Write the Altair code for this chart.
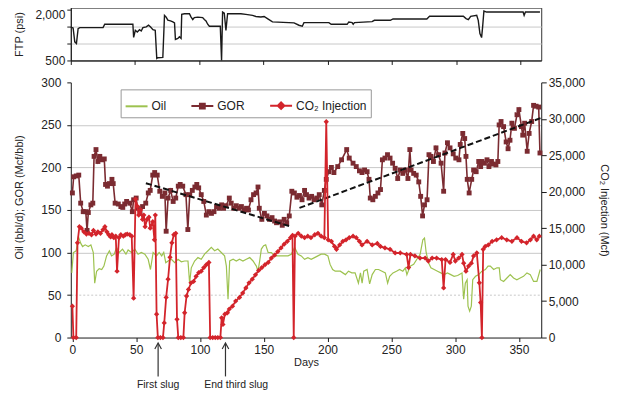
import altair as alt
import pandas as pd

FONT = "Liberation Sans"

# ---------------- data ----------------
ftp_day = [0, 1.8, 3.1, 4.4, 5.7, 7, 25.1, 26.4, 48.3, 48.9, 50.2, 51.7, 53.5, 54.8, 56.1, 58.7, 60.5,
           62.1, 63.9, 65.7, 66.9, 67.7, 71.6, 72.9, 74.2, 75.5, 77.6, 79.4, 80.7, 81.4, 83.3, 84.5,
           85.8, 86.3, 88.4, 92.3, 93.6, 94.9, 96.1, 98.8, 102.6, 103.9, 105.2, 106.5, 107.8, 116.3,
           117.3, 118.1, 119.4, 120.7, 122, 132.3, 136.2, 141.4, 144, 147.9, 150.4, 153, 156.9, 173.7,
           177.5, 180.1, 181.4, 200.8, 202.6, 215, 216.3, 218.9, 219.7, 220.7, 234.4, 236.2, 248.6,
           250.7, 277, 279.1, 305.4, 307.5, 309.3, 311.1, 315.8, 317, 318.3, 319.6, 320.4, 321.4,
           323.5, 351.9, 352.7, 353.7, 365]
ftp_psi = [1480, 1460, 1050, 1000, 1440, 1470, 1470, 1570, 1570, 1180, 1390, 1340, 1410, 1370, 1470, 1490, 1540,
           1490, 1410, 1390, 560, 580, 590, 1830, 1780, 1690, 1670, 1640, 1610, 1120, 1150, 1200,
           1150, 1860, 1880, 1880, 1780, 1710, 1765, 1780, 1765, 1710, 1670, 1570, 1510, 1510,
           500, 1930, 1900, 1390, 1880, 1880, 1860, 1830, 1800, 1785, 1800, 1735, 1640, 1610,
           1540, 1510, 1617, 1617, 1568, 1568, 1637, 1617, 1568, 1617, 1647, 1686, 1686,
           1725, 1725, 1804, 1804, 1735, 1706, 1804, 1832, 1686, 1294, 1176, 1490, 1960,
           1930, 1930, 1832, 1930, 1930]

oil_day = [-0.5, 0.8, 3, 4.7, 6.5, 8, 10, 12.5, 14.5, 16.4, 17.5, 19, 21, 23, 24.7, 26.8, 29, 30.7, 32.8,
           34.6, 36.7, 39.3, 42, 43.7, 46.3, 49, 51.5, 54, 56.8, 59.4, 61.2, 63.3, 66, 68, 70, 71.6,
           73.2, 75, 77.6, 80.2, 82.8, 85.4, 88, 90.6, 91.9, 93.2, 95.8, 98.4, 101, 103.6, 106.3,
           108.9, 111.5, 114, 116.7, 119.3, 120.7, 122, 123.3, 126, 128.5, 131, 133.7, 136.3, 139,
           141.6, 144.2, 145.5, 146.8, 148.1, 149.9, 151.5, 153.4, 156, 158.6, 161.2, 163.8, 166.4,
           169, 171.6, 174.2, 176.8, 179.4, 182, 184.6, 187.2, 189.8, 192.4, 195, 197.7, 200.3, 202,
           204, 206, 210, 214, 216.4, 219, 221.6, 224.2, 225.8, 227.1, 228.4, 231, 233, 235, 237.5,
           240, 242.7, 245.3, 247.1, 248.7, 251.3, 254, 256.5, 259, 261, 262.2, 264.8, 267.5, 270,
           272.6, 274.7, 276, 277.3, 279.2, 281, 283.6, 286.2, 288.8, 291.4, 294, 296.6, 299.2, 302,
           305.4, 306.7, 308, 309.4, 310.1, 311.4, 312.7, 313.8, 316, 318.5, 321, 323.7, 325.8, 327.6,
           330.2, 332.8, 334.6, 335.5, 338, 340.6, 343.2, 345.8, 348.4, 351, 353.6, 356.3, 358.9,
           361.5, 364.1, 366.7]
oil_bbl = [76, 100, 102, 119, 111, 107, 109, 107, 109, 100, 64, 78, 81, 80, 84, 96, 102, 96, 98,
           106, 100, 104, 98, 103, 100, 104, 98, 100, 98, 92, 80, 100, 96, 100, 96, 100,
           88, 90, 92, 88, 92, 89, 90, 90, 64, 82, 90, 94, 92, 98, 102,
           106, 102, 104, 100, 96, 84, 45, 90, 92, 90, 92, 90, 92, 94,
           90, 84, 78, 90, 104, 108, 109, 100, 100, 96, 96, 96, 96,
           96, 98, 106, 98, 96, 92, 94, 92, 94, 96, 98, 98, 96, 86,
           80, 78, 78, 74, 78, 76, 76, 64, 76, 64, 78, 80, 63, 74, 80,
           80, 78, 76, 64, 72, 76, 78, 80, 78, 82, 74, 84, 86, 92,
           98, 115, 117, 100, 88, 82, 80, 78, 76, 74, 76, 74, 72, 73,
           76, 45, 64, 68, 37, 31, 37, 68, 72, 74, 78, 80, 84, 84,
           80, 82, 82, 68, 66, 70, 74, 70, 68, 70, 72, 76, 74,
           66, 66, 80]

gor_day = [0, 1, 3, 5, 6.5, 8.5, 10.5, 11.5, 12.5, 14.5, 16, 17, 18.5, 20, 21.5, 23.5, 25, 26, 27.5, 29,
           31, 32, 33.5, 36, 38, 39.5, 41, 42.5, 45, 47, 48, 50, 51, 53, 55, 57.5, 59.5, 61, 63, 64.5,
           66.5, 68.5, 70.5, 72.5, 73.5, 75, 77, 79, 81, 83, 84.5, 86.5, 89, 90.5, 92, 94, 96, 97.5,
           99, 101, 103, 105, 107, 109, 111, 113, 115, 117, 118.5, 120.5, 123, 124.5, 126.5, 128.5,
           130.5, 132.5, 134.5, 136.5, 138, 140, 142, 144, 145.5, 146.5, 148.5, 150.5, 152.5, 154.5,
           156.5, 158.5, 160, 162.5, 164.5, 166, 168, 170, 172, 174, 176, 178, 180, 182, 183.5, 185.5,
           187.5, 189.5, 191.5, 193.5, 195.5, 197.5, 199, 201, 203, 205, 208, 211, 215, 217, 220,
           222.5, 225, 227, 229, 231, 232.5, 233.5, 235.5, 237.5, 239.5, 241.5, 243, 245, 247, 249,
           251, 253, 255, 257, 259, 261, 263, 264.5, 265.5, 267.5, 269.5, 271.5, 273, 274.5, 276,
           278, 279.5, 281, 283, 285, 287, 289, 291, 292, 294, 296, 298.5, 300.5, 303, 304, 306,
           307.5, 308.5, 309.5, 311, 313, 314.5, 316.5, 318.5, 320, 321, 323, 325, 326.5, 328.5,
           330, 332, 333.5, 334.5, 336, 338, 340, 341.5, 343, 344.5, 346.5, 348.5, 350, 352, 353,
           354.5, 356.5, 358, 360, 361.5, 363.5, 365.5, 366.5]
gor_val = [170, 189, 190, 191, 158, 148, 148, 126, 147, 156, 158, 213, 221, 207, 213, 209, 210, 180, 178, 181,
           186, 181, 158, 157, 154, 153, 157, 160, 158, 148, 162, 164, 152, 146, 154, 158, 170, 173, 191, 194,
           191, 172, 166, 170, 125, 164, 173, 160, 164, 178, 180, 178, 168, 127, 168, 173, 177, 180,
           176, 168, 160, 144, 148, 146, 148, 154, 152, 156, 152, 155, 164, 158, 152, 155,
           152, 154, 150, 152, 150, 162, 168, 170, 177, 152, 139, 146, 143, 139,
           141, 137, 135, 136, 132, 139, 135, 143, 172, 170, 165, 167, 162, 173, 168, 164,
           166, 162, 164, 168, 156, 173, 186, 195, 200, 194, 201, 209, 221, 211, 205,
           201, 196, 194, 197, 195, 186, 164, 162, 166, 170, 174, 209, 211, 215, 211,
           205, 199, 187, 197, 193, 197, 187, 221, 197, 193, 191, 183, 166, 143, 156,
           162, 215, 213, 207, 223, 215, 205, 172, 217, 229, 223, 216, 211, 209, 227, 240,
           234, 213, 186, 170, 186, 197, 195, 207, 201, 207, 205, 209, 201, 207,
           204, 203, 207, 250, 254, 248, 230, 222, 232, 252, 246, 262, 268, 248, 238,
           252, 219, 240, 254, 273, 272, 271, 217]

co2_day = [0, 0.8, 3, 4, 5.5, 7, 9, 11, 13, 15, 16.5, 18.5, 20, 22, 24, 25.5, 27, 28.5, 30, 31, 32.5,
           34, 35, 36.5, 38, 40, 41.5, 43, 45, 46.5, 48, 49.5, 51, 52, 53.5, 55, 56, 57, 58.5, 60, 61,
           63, 64.3, 65, 66, 67, 69, 71, 72, 73.5, 75, 76.5, 78, 79.5, 81, 82, 83, 85, 87, 88, 89.5,
           91, 93, 95, 97, 99, 101, 103, 105, 107, 108, 110, 112, 114, 116, 117, 118, 119.5, 121.5,
           123, 125.5, 128, 131, 133.5, 136, 138.5, 141, 143.5, 146, 148.5, 151, 153.5, 156, 158.5,
           161, 163.5, 166, 168.5, 171, 172.5, 173.5, 174.5, 177, 179.5, 182, 184.5, 187, 190, 192.5,
           195, 197.5, 199, 200.5, 203, 205.5, 207, 209.5, 212, 214.5, 217, 220, 222.5, 225, 227,
           231, 235, 239, 241.5, 245, 249, 253, 257, 262, 263.5, 265, 268.5, 272.5, 276.5, 279,
           282, 285.5, 289.5, 291, 292.5, 296, 298.5, 300.2, 302.8, 305.4, 306.7, 308.5, 310.6,
           312.7, 314.5, 317, 319, 320, 321, 322, 323.6, 326, 329, 332.5, 336.5, 340.5, 344.5,
           348.5, 352, 356, 359, 361.5, 364, 366]
co2_mcf = [4300, 0, 0, 13000, 15200, 15000, 14500, 14200, 14300, 14100, 14700, 14200, 14500, 14300, 14800,
           15200, 14500, 14100, 13800, 14100, 13700, 13900, 9100, 13700, 14100, 13900, 14100, 14200,
           14100, 13900, 5400, 19000, 18000, 16800, 17500, 16200, 16800, 15200, 16200, 16500, 15000,
           15900, 13400, 16800, 3200, 0, 0, 0, 2000, 5500, 8000, 11000, 13000, 14100, 14300, 2500,
           0, 0, 0, 3400, 5700, 6600, 7500, 7700, 8400, 8900, 9100, 9600, 10000, 10300, 0, 0, 0, 0,
           0, 2700, 1800, 3200, 3400, 3900, 4300, 5000, 5500, 6100, 6800, 7500, 8000, 8600, 9200,
           9600, 10000, 10300, 10900, 11300, 11800, 12300, 12800, 13200, 13700, 14000, 0, 13900,
           14300, 13900, 13700, 13900, 13700, 14100, 14300, 13900, 13700, 29600, 13400, 13200,
           12500, 12100, 12700, 13200, 13400, 13700, 13900, 13700, 13200, 12700, 13200, 12700,
           12900, 12500, 12300, 12100, 11600, 11600, 11400, 9600, 11400, 11200, 10900, 10900,
           10500, 10900, 10900, 10700, 6800, 10700, 10300, 11400, 10500, 10900, 11400, 10200,
           9100, 9800, 10200, 11200, 11600, 7500, 4800, 0, 12100, 12500, 12700, 13200, 13400,
           13700, 13400, 13200, 13700, 13200, 13000, 13400, 13900, 13400, 13900]

trend_day = [57.6, 170, 178, 367]
trend_gor = [181.5, 131, 152.4, 258]
trend_seg = ["a", "a", "b", "b"]

series_names = ["Oil", "GOR", "CO₂ Injection"]
series_colors = ["#9dc24f", "#7b2b31", "#d3242b"]
series_symbols = ["M-1,0L1,0",
                  "M-1,0L1,0M-0.22,-0.22L0.22,-0.22L0.22,0.22L-0.22,0.22Z",
                  "M-1,0L1,0M0,-0.3L0.3,0L0,0.3L-0.3,0Z"]

slug_arrow_day = [67.2, 120]
slug_text_day = [67.2, 128.4]
slug_label = ["First slug", "End third slug"]

# ---------------- frames ----------------
ftp_df = pd.DataFrame({"day": ftp_day, "v": ftp_psi})
oil_df = pd.DataFrame({"day": oil_day, "v": oil_bbl})
gor_df = pd.DataFrame({"day": gor_day, "v": gor_val})
co2_df = pd.DataFrame({"day": co2_day, "mcf": co2_mcf})
trend_df = pd.DataFrame({"day": trend_day, "v": trend_gor, "seg": trend_seg})
leg_df = pd.DataFrame({"series": series_names, "day": [-60] * 3, "v": [150] * 3})
ann_df = pd.DataFrame({"day": slug_arrow_day, "tday": slug_text_day, "label": slug_label})

AX = "#1a1a1a"
GRID = "#c8c8c8"
W = 472

# ---------------- top panel ----------------
top = alt.Chart(ftp_df).mark_line(color="#1a1a1a", strokeWidth=1.4).encode(
    x=alt.X("day:Q", scale=alt.Scale(domain=[0, 366], nice=False, zero=False),
            axis=alt.Axis(values=list(range(0, 351, 50)), labels=False, title=None, grid=False,
                          tickSize=4, domainColor=AX, tickColor=AX)),
    y=alt.Y("v:Q", scale=alt.Scale(domain=[500, 2060], nice=False, zero=False),
            axis=alt.Axis(values=[500, 1000, 1500, 2000], format=",d", title="FTP (psi)", titleX=-46,
                          grid=True, gridColor=GRID,
                          gridOpacity={"condition": {"test": "datum.value == 1000 || datum.value == 1500", "value": 1}, "value": 0},
                          labelBaseline={"condition": {"test": "datum.value == 2000", "value": "top"}, "value": "middle"},
                          tickSize=4, labelPadding=2, domainColor=AX, tickColor=AX)),
).properties(width=W, height=53, view=alt.ViewBackground(stroke="#333", strokeWidth=1))

# ---------------- bottom panel ----------------
BX_SCALE = alt.Scale(domain=[-1.25, 367.5], nice=False, zero=False)
BX_AXIS = alt.Axis(values=list(range(0, 351, 50)), title="Days", grid=False, tickSize=4, labelPadding=3,
                   titlePadding=1, domainColor=AX, tickColor=AX)
L_SCALE = alt.Scale(domain=[0, 300], nice=False, zero=False)
L_AXIS = alt.Axis(values=list(range(0, 301, 50)), title="Oil (bbl/d); GOR (Mcf/bbl)", titleX=-46, titleY=115,
                  grid=True, gridColor=GRID,
                  gridOpacity={"condition": {"test": "datum.value == 0 || datum.value == 300", "value": 0}, "value": 1},
                  gridDash={"condition": {"test": "datum.value == 50", "value": [2, 2]}, "value": []},
                  tickSize=4, labelPadding=6, domainColor=AX, tickColor=AX)
R_SCALE = alt.Scale(domain=[0, 35000], nice=False, zero=False)
R_AXIS = alt.Axis(values=list(range(0, 35001, 5000)), format=",d", title="CO₂ Injection (Mcf)", orient="right",
                  grid=False, tickSize=5, labelPadding=2, titlePadding=14, domainColor=AX, tickColor=AX)


def bx(field="day"):
    return alt.X(f"{field}:Q", scale=BX_SCALE, axis=BX_AXIS)


def ly(field="v"):
    return alt.Y(f"{field}:Q", scale=L_SCALE, axis=L_AXIS)


oil = alt.Chart(oil_df).mark_line(color=series_colors[0], strokeWidth=1.2).encode(x=bx(), y=ly())
gor = alt.Chart(gor_df).mark_line(
    color=series_colors[1], strokeWidth=1.6,
    point=alt.OverlayMarkDef(shape="square", size=24, filled=True, color=series_colors[1], opacity=1)
).encode(x=bx(), y=ly())
trend = alt.Chart(trend_df).mark_line(color="#111", strokeWidth=2, strokeDash=[6, 3]).encode(
    x=bx(), y=ly(), detail="seg:N")

LEG = alt.Legend(orient="none", legendX=50, legendY=7, direction="horizontal", title=None,
                 symbolSize=484, symbolStrokeWidth=2, labelFont=FONT, labelFontSize=12, labelColor="#222",
                 padding=4, strokeColor="#999", fillColor="white", columnPadding=21, labelOffset=3)
leg = alt.Chart(leg_df).mark_point(clip=True, opacity=1, strokeWidth=2).encode(
    x=bx(), y=ly(),
    shape=alt.Shape("series:N", scale=alt.Scale(domain=series_names, range=series_symbols), legend=LEG),
    stroke=alt.Stroke("series:N", scale=alt.Scale(domain=series_names, range=series_colors), legend=LEG),
    fill=alt.Fill("series:N", scale=alt.Scale(domain=series_names, range=series_colors), legend=LEG),
)

arrows = alt.Chart(ann_df).mark_rule(color="#333", strokeWidth=1.2).encode(
    x=bx(), y=alt.value(262), y2=alt.value(295))
heads = alt.Chart(ann_df).mark_point(shape="M-0.55,1L0,0L0.55,1", size=144, filled=False, opacity=1,
                                     color="#333", strokeWidth=1.2).encode(x=bx(), y=alt.value(261.5))
texts = alt.Chart(ann_df).mark_text(font=FONT, fontSize=10.5, color="#222", baseline="middle").encode(
    x=bx("tday"), y=alt.value(304), text="label:N")

co2 = alt.Chart(co2_df).mark_line(
    color=series_colors[2], strokeWidth=1.8,
    point=alt.OverlayMarkDef(shape="diamond", size=28, filled=True, color=series_colors[2], opacity=1)
).encode(x=bx(), y=alt.Y("mcf:Q", scale=R_SCALE, axis=R_AXIS))

left = alt.layer(oil, gor, trend, leg, arrows, heads, texts)
bottom = alt.layer(left, co2).resolve_scale(y="independent").properties(width=W, height=256)

chart = alt.vconcat(top, bottom, spacing=9).resolve_scale(
    x="independent", shape="independent", stroke="independent", fill="independent"
).resolve_legend(shape="independent", stroke="independent", fill="independent").properties(
    padding={"left": 5, "top": -2, "right": 2, "bottom": 0}
).configure_axis(
    labelFont=FONT, titleFont=FONT, labelFontSize=12, titleFontSize=11, labelColor="#222",
    titleColor="#222", titleFontWeight="normal"
).configure_view(stroke=None)

chart.save("out.html", embed_options={"renderer": "svg", "actions": False})
